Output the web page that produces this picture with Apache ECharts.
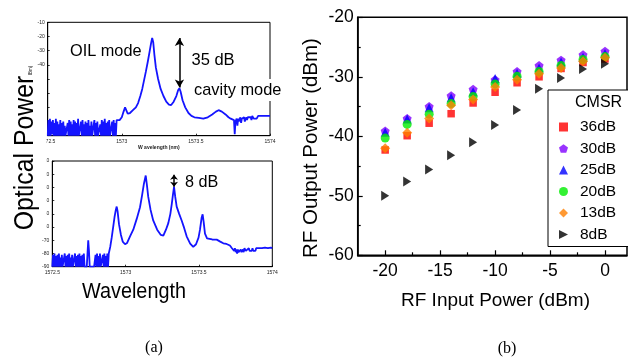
<!DOCTYPE html>
<html>
<head>
<meta charset="utf-8">
<script src="https://cdn.jsdelivr.net/npm/echarts@6/dist/echarts.min.js"></script>
<style>html,body{margin:0;padding:0;background:#fff;}#c{width:628px;height:360px;}</style>
</head>
<body>
<div id="c"></div>
<script>
// ---------- Panel (b) data ----------
var inputPower = [-20, -18, -16, -14, -12, -10, -8, -6, -4, -2, 0];
var cmsr36 = [-42.3, -39.9, -37.8, -36.2, -34.4, -32.6, -31.0, -30.0, -28.6, -27.6, -27.0];
var cmsr30 = [-39.1, -37.0, -35.0, -33.2, -32.1, -30.5, -29.1, -28.1, -27.2, -26.3, -25.7];
var cmsr25 = [-39.3, -37.1, -35.2, -33.5, -32.5, -30.3, -29.4, -28.5, -27.5, -26.7, -26.1];
var cmsr20 = [-40.3, -38.0, -36.3, -34.5, -33.3, -31.2, -29.9, -29.1, -28.1, -27.1, -26.6];
var cmsr13 = [-42.0, -39.4, -37.0, -34.8, -33.8, -31.7, -30.5, -29.5, -28.5, -27.4, -26.8];
var cmsr8  = [-50.0, -47.6, -45.6, -43.2, -41.0, -38.1, -35.6, -32.0, -30.2, -28.7, -27.8];
var legendNames = ['36dB', '30dB', '25dB', '20dB', '13dB', '8dB'];
var xTickValues = [-20, -15, -10, -5, 0];
var xMinorTickValues = [-17.5, -12.5, -7.5, -2.5];

// ---------- Panel (a) data (wavelength nm, power dBm) ----------
var noiseStart = 1572.5, noiseStep = 0.005;
var topNoise = [-90,-79,-90,-78,-90,-80,-89,-79,-90,-81,-90,-78,-90,-80,-90,-82,-90,-79,-90,-81,
  -90,-80,-90,-83,-90,-90,-90,-81,-90,-79,-90,-80,-90,-82,-90,-79,-90,-80,-90,-81,
  -90,-78,-90,-90,-90,-80,-90,-79,-90,-82,-90,-80,-90,-81,-90,-79,-90,-83,-90,-80,
  -90,-90,-90,-79,-90,-81,-90,-80,-90,-90,-90,-82,-90,-79,-90,-80,-90,-78,-90,-81,
  -90,-80,-90,-79,-90,-90,-90,-80,-90,-79,-90,-81,-90,-79];
var topCurve = [[1572.97,-80],[1572.985,-79],[1573.0,-77],[1573.012,-73],[1573.022,-70],[1573.03,-72],
  [1573.04,-74.5],[1573.055,-74],[1573.075,-72],[1573.095,-70],[1573.11,-67],[1573.125,-62],
  [1573.138,-57],[1573.15,-51],[1573.162,-45],[1573.175,-38],[1573.187,-31],[1573.197,-25],
  [1573.205,-21],[1573.212,-24],[1573.22,-33],[1573.23,-42],[1573.245,-50],[1573.262,-57],
  [1573.281,-62],[1573.30,-66],[1573.318,-68],[1573.333,-68.4],[1573.35,-66],[1573.368,-62],
  [1573.38,-58],[1573.389,-56.5],[1573.397,-59],[1573.41,-65],[1573.428,-70],[1573.45,-74],
  [1573.47,-76],[1573.49,-77],[1573.52,-77.5],[1573.55,-78],[1573.58,-77],[1573.61,-75],
  [1573.635,-73],[1573.653,-72],[1573.675,-73],[1573.70,-75],[1573.72,-77],[1573.735,-78]];
var topTail = [[1573.745,-77],[1573.757,-79],[1573.762,-89],[1573.767,-80],[1573.775,-78],[1573.78,-83],
  [1573.785,-78],[1573.79,-80],[1573.80,-77],[1573.805,-81],[1573.81,-78],[1573.82,-79],[1573.825,-77],
  [1573.83,-80],[1573.84,-77],[1573.845,-79],[1573.85,-77],[1573.86,-78],[1573.87,-77],[1573.875,-79],
  [1573.88,-76],[1573.89,-78],[1573.90,-77],[1573.91,-78],[1573.92,-76],[1573.93,-77],[1573.94,-76],
  [1573.95,-77],[1573.96,-76],[1573.97,-77],[1573.98,-76],[1573.99,-76.5],[1574.0,-76]];
var bottomNoise = [-90,-81,-90,-80,-90,-82,-90,-81,-90,-80,
  -90,-83,-90,-81,-90,-90,-90,-80,-90,-82,
  -90,-81,-90,-80,-90,-83,-90,-81,-90,-90,
  -90,-80,-90,-82,-90,-81,-90,-80,-90,-82,
  -90,-81,-90,-80,-90,-90,-90,-90,-80,-70,
  -78,-90,-90,-90,-90,-90,-90,-90,-90,-81,
  -90,-80,-90,-82,-90,-80,-90,-90,-90,-81,
  -90,-80,-90,-82,-90,-80,-90];
var bottomCurve = [[1572.885,-80],[1572.895,-75],[1572.905,-68],[1572.915,-60],[1572.925,-52],[1572.933,-47],
  [1572.939,-44.5],[1572.945,-48],[1572.955,-58],[1572.968,-66],[1572.98,-71],[1572.996,-73],[1573.01,-72],
  [1573.03,-67],[1573.052,-62],[1573.075,-54],[1573.098,-45],[1573.112,-36],[1573.125,-27],[1573.137,-21],
  [1573.145,-28],[1573.154,-37],[1573.17,-47],[1573.188,-55],[1573.215,-62],[1573.24,-66],[1573.257,-66.5],
  [1573.275,-62],[1573.291,-57],[1573.305,-50],[1573.314,-43],[1573.322,-36],[1573.33,-29.5],[1573.338,-37],
  [1573.348,-44.5],[1573.365,-50],[1573.382,-55],[1573.40,-61],[1573.416,-67],[1573.44,-72.5],[1573.461,-75],
  [1573.48,-73],[1573.497,-68],[1573.507,-62],[1573.518,-53],[1573.525,-50.4],[1573.532,-56],[1573.541,-65],
  [1573.555,-68.5],[1573.59,-69.4],[1573.621,-69.5],[1573.645,-71],[1573.666,-72.3],[1573.688,-72.8],
  [1573.70,-71.5],[1573.711,-74],[1573.725,-76],[1573.734,-77]];
var bottomTail = [[1573.74,-78],[1573.745,-76],[1573.75,-79],[1573.755,-77],[1573.76,-80],[1573.765,-77],
  [1573.77,-79],[1573.775,-78],[1573.78,-80],[1573.785,-77],[1573.79,-79],[1573.80,-77],[1573.805,-79],
  [1573.81,-76],[1573.82,-78],[1573.825,-77],[1573.83,-79],[1573.84,-76],[1573.845,-78],[1573.85,-77],
  [1573.86,-78],[1573.865,-76],[1573.87,-78],[1573.88,-77],[1573.885,-78],[1573.89,-76],[1573.90,-77],
  [1573.91,-76],[1573.92,-77.5],[1573.93,-76],[1573.94,-77],[1573.95,-75.5],[1573.96,-77],[1573.97,-76],
  [1573.98,-76.5],[1573.99,-75.5],[1574.0,-76]];
// annotation arrows (wavelength, top dBm, bottom dBm)
var arrowTop = [1573.389, -21, -56];
var arrowBottom = [1573.33, -20.5, -29.5];

function noisePairs(vals) {
  return vals.map(function (v, i) { return [+(noiseStart + i * noiseStep).toFixed(4), v]; });
}
var topSpectrum = noisePairs(topNoise).concat(topCurve, topTail);
var bottomSpectrum = noisePairs(bottomNoise).concat(bottomCurve, bottomTail);

var SANS = 'Liberation Sans, Arial, Helvetica, sans-serif';
var SERIF = 'Liberation Serif, Times New Roman, serif';

function pairs(ys) { return inputPower.map(function (x, i) { return [x, ys[i]]; }); }

var pentagon = 'path://M5,0L10,3.63L8.09,9.51L1.91,9.51L0,3.63Z';
var rightTri = 'path://M0,0L10,5L0,10Z';

function smallX(grid, showName) {
  return {
    type: 'value', gridIndex: grid, min: 1572.5, max: 1574, interval: 0.5,
    axisLine: {show: true, onZero: false, lineStyle: {color: '#000', width: 1}},
    axisTick: {show: true, inside: true, length: 2, lineStyle: {color: '#000', width: 0.8}},
    axisLabel: {fontSize: 5, color: '#222', margin: 3, fontFamily: SANS,
      formatter: function (v) { return String(v); }},
    splitLine: {show: false},
    name: showName ? 'W avelength (nm)' : '', nameLocation: 'middle', nameGap: 9,
    nameTextStyle: {fontSize: 5, fontWeight: 'bold', color: '#222', fontFamily: SANS}
  };
}
function smallY(grid, showName) {
  return {
    type: 'value', gridIndex: grid, min: -90, max: -10, interval: 10,
    axisLine: {show: true, onZero: false, lineStyle: {color: '#000', width: 1}},
    axisTick: {show: true, inside: true, length: 2, lineStyle: {color: '#000', width: 0.8}},
    axisLabel: {fontSize: 5, color: '#222', margin: 3, fontFamily: SANS},
    splitLine: {show: false},
    name: showName ? 'Power (dBm)' : '', nameLocation: 'middle', nameGap: 10,
    nameTextStyle: {fontSize: 4.5, color: '#222', fontFamily: SANS}
  };
}
function arrowLine(a, size) {
  return {
    silent: true, symbol: ['arrow', 'arrow'], symbolSize: size,
    label: {show: false},
    lineStyle: {color: '#000', width: 1.5, type: 'solid'},
    data: [[{coord: [a[0], a[1]]}, {coord: [a[0], a[2]]}]]
  };
}

var chart = echarts.init(document.getElementById('c'));
var option = {
  animation: false,
  backgroundColor: '#fff',
  grid: [
    {left: 47.7, top: 22.3, width: 222.3, height: 113.4, show: true, borderColor: '#000', borderWidth: 1, backgroundColor: 'transparent'},
    {left: 52.3, top: 161, width: 220, height: 105.7, show: true, borderColor: '#000', borderWidth: 1, backgroundColor: 'transparent'},
    {left: 357.7, top: 17.3, width: 269.3, height: 238, show: true, borderColor: '#000', borderWidth: 1.5, backgroundColor: 'transparent'}
  ],
  xAxis: [
    smallX(0, true),
    smallX(1, false),
    {
      type: 'value', gridIndex: 2, min: -22.5, max: 2,
      axisLine: {show: true, onZero: false, lineStyle: {color: '#000', width: 1.5}},
      axisTick: {show: true, inside: true, length: 5, customValues: xTickValues, lineStyle: {color: '#000', width: 1.2}},
      axisLabel: {show: true, customValues: xTickValues, fontSize: 17.5, color: '#000', margin: 7, fontFamily: SANS},
      splitLine: {show: false}
    },
    {
      type: 'value', gridIndex: 2, min: -22.5, max: 2, position: 'bottom',
      axisLine: {show: false},
      axisTick: {show: true, inside: true, length: 3, customValues: xMinorTickValues, lineStyle: {color: '#000', width: 1.2}},
      axisLabel: {show: false},
      splitLine: {show: false}
    }
  ],
  yAxis: [
    smallY(0, true),
    smallY(1, false),
    {
      type: 'value', gridIndex: 2, min: -60, max: -20, interval: 10,
      axisLine: {show: true, onZero: false, lineStyle: {color: '#000', width: 1.5}},
      axisTick: {show: true, inside: true, length: 5, lineStyle: {color: '#000', width: 1.2}},
      minorTick: {show: true, splitNumber: 2, length: 3, lineStyle: {color: '#000', width: 1.2}},
      axisLabel: {fontSize: 17.5, color: '#000', margin: 4, fontFamily: SANS},
      splitLine: {show: false}
    }
  ],
  legend: {
    orient: 'vertical', left: 548, top: 90,
    padding: [28, 40, 3, 11], itemWidth: 9, itemHeight: 9, itemGap: 3.5,
    backgroundColor: '#fff', borderColor: '#000', borderWidth: 1,
    textStyle: {fontSize: 15.5, lineHeight: 18, color: '#000', fontFamily: SANS, padding: [0, 0, 0, 7]},
    data: legendNames
  },
  series: [
    {type: 'line', xAxisIndex: 0, yAxisIndex: 0, data: topSpectrum, showSymbol: false, symbol: 'none',
      lineStyle: {color: '#1414ff', width: 1.8}, itemStyle: {color: '#1414ff'}, markLine: arrowLine(arrowTop, [7, 8])},
    {type: 'line', xAxisIndex: 1, yAxisIndex: 1, data: bottomSpectrum, showSymbol: false, symbol: 'none',
      lineStyle: {color: '#1414ff', width: 1.8}, itemStyle: {color: '#1414ff'}, markLine: arrowLine(arrowBottom, [6, 5])},
    {name: '36dB', type: 'scatter', xAxisIndex: 2, yAxisIndex: 2, data: pairs(cmsr36), symbol: 'rect', symbolSize: 7.5, itemStyle: {color: '#ff0000'}},
    {name: '30dB', type: 'scatter', xAxisIndex: 2, yAxisIndex: 2, data: pairs(cmsr30), symbol: pentagon, symbolSize: 9, itemStyle: {color: '#8000ff'}},
    {name: '25dB', type: 'scatter', xAxisIndex: 2, yAxisIndex: 2, data: pairs(cmsr25), symbol: 'triangle', symbolSize: 9, itemStyle: {color: '#0000ff'}},
    {name: '20dB', type: 'scatter', xAxisIndex: 2, yAxisIndex: 2, data: pairs(cmsr20), symbol: 'circle', symbolSize: 9, itemStyle: {color: '#00ee00'}},
    {name: '13dB', type: 'scatter', xAxisIndex: 2, yAxisIndex: 2, data: pairs(cmsr13), symbol: 'diamond', symbolSize: 10, itemStyle: {color: '#ff8000'}},
    {name: '8dB', type: 'scatter', xAxisIndex: 2, yAxisIndex: 2, data: pairs(cmsr8), symbol: rightTri, symbolSize: [8, 10], itemStyle: {color: '#000000'}}
  ],
  graphic: [
    {type: 'rect', z: 100, shape: {x: 0, y: 75, width: 46.5, height: 157}, style: {fill: '#fff'}},
    {type: 'text', z: 101, x: 26, y: 153, rotation: Math.PI / 2, scaleX: 0.92,
      style: {text: 'Optical Power', fill: '#000', font: '27px ' + SANS, align: 'center', verticalAlign: 'middle'}},
    {type: 'text', z: 101, x: 134, y: 292, scaleX: 0.9,
      style: {text: 'Wavelength', fill: '#000', font: '22px ' + SANS, align: 'center', verticalAlign: 'middle'}},
    {type: 'text', z: 101, x: 154, y: 348,
      style: {text: '(a)', fill: '#000', font: '16px ' + SERIF, align: 'center', verticalAlign: 'middle'}},
    {type: 'text', z: 101, x: 507, y: 349,
      style: {text: '(b)', fill: '#000', font: '16px ' + SERIF, align: 'center', verticalAlign: 'middle'}},
    {type: 'text', z: 101, x: 70, y: 52,
      style: {text: 'OIL mode', fill: '#000', font: '16.3px ' + SANS, align: 'left', verticalAlign: 'middle'}},
    {type: 'text', z: 101, x: 191.5, y: 60,
      style: {text: '35 dB', fill: '#000', font: '16.5px ' + SANS, align: 'left', verticalAlign: 'middle'}},
    {type: 'text', z: 101, x: 194, y: 90,
      style: {text: 'cavity mode', fill: '#000', font: '16.4px ' + SANS, align: 'left', verticalAlign: 'middle',
        backgroundColor: '#fff', padding: [3, 0, 3, 0]}},
    {type: 'text', z: 101, x: 185, y: 183,
      style: {text: '8 dB', fill: '#000', font: '16.2px ' + SANS, align: 'left', verticalAlign: 'middle'}},
    {type: 'text', z: 101, x: 311, y: 148, rotation: Math.PI / 2,
      style: {text: 'RF Output Power (dBm)', fill: '#000', font: '20.5px ' + SANS, align: 'center', verticalAlign: 'middle'}},
    {type: 'text', z: 101, x: 495.5, y: 301,
      style: {text: 'RF Input Power (dBm)', fill: '#000', font: '19px ' + SANS, align: 'center', verticalAlign: 'middle'}},
    {type: 'text', z: 101, x: 575, y: 103,
      style: {text: 'CMSR', fill: '#000', font: '16px ' + SANS, align: 'left', verticalAlign: 'middle'}}
  ]
};
chart.setOption(option);
</script>
</body>
</html>
